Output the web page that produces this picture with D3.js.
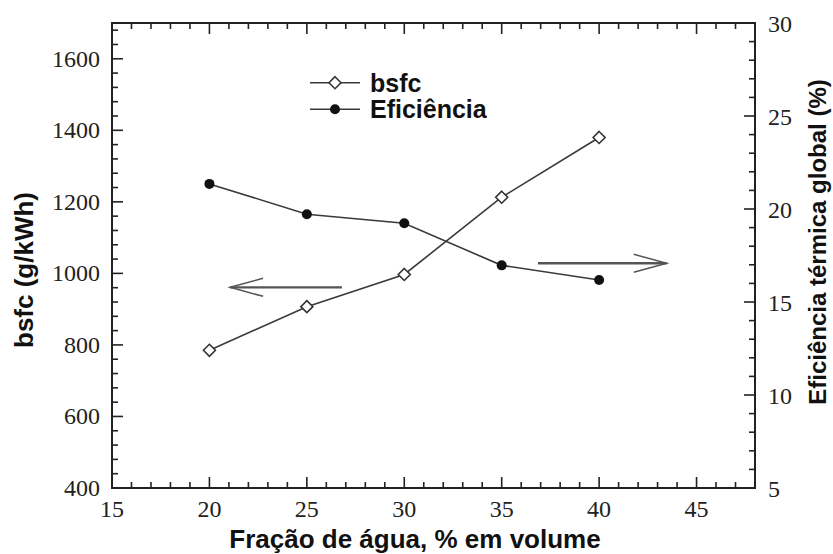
<!DOCTYPE html>
<html>
<head>
<meta charset="utf-8">
<script src="https://cdn.jsdelivr.net/npm/d3@7/dist/d3.min.js"></script>
<style>
  html, body { margin: 0; padding: 0; background: #fff; }
  svg { display: block; }
  .tick-label { font-family: "Liberation Serif", "Times New Roman", serif; font-size: 24px; fill: #222; }
  .title { font-family: "Liberation Sans", Arial, sans-serif; font-weight: bold; fill: #111; }
</style>
</head>
<body>
<svg id="chart" width="833" height="554"></svg>
<script>
// Water fraction (% by volume) and the two measured responses
const waterFraction = [20, 25, 30, 35, 40];
const bsfcValues = [785, 907, 997, 1213, 1380];          // g/kWh, left axis
const efficiencyValues = [21.35, 19.72, 19.23, 16.97, 16.18]; // %, right axis

// Axis ticks
const xTicks = [15, 20, 25, 30, 35, 40, 45];
const bsfcTicks = [400, 600, 800, 1000, 1200, 1400, 1600];
const effTicks = [5, 10, 15, 20, 25, 30];

// Arrows pointing each curve to its axis: [start, tip] in data units
const bsfcArrow = [[26.8, 961], [21.06, 961]];
const effArrow = [[36.86, 17.08], [43.47, 17.08]];

const svg = d3.select("#chart");
const plotLeft = 112, plotRight = 755, plotTop = 23, plotBottom = 488;

const x = d3.scaleLinear().domain([15, 48]).range([plotLeft, plotRight]);
const yL = d3.scaleLinear().domain([400, 1700]).range([plotBottom, plotTop]);
const yR = d3.scaleLinear().domain([5, 30]).range([plotBottom, plotTop]);

const ink = "#222";
const major = 11, minor = 6;

// Inward ticks on all four sides
function ticks(values, pos, orient, len) {
  const g = svg.append("g").attr("stroke", ink).attr("stroke-width", 1.6);
  values.forEach(v => {
    const p = pos(v);
    if (orient === "bottom") g.append("line").attr("x1", p).attr("x2", p).attr("y1", plotBottom).attr("y2", plotBottom - len);
    if (orient === "top") g.append("line").attr("x1", p).attr("x2", p).attr("y1", plotTop).attr("y2", plotTop + len);
    if (orient === "left") g.append("line").attr("y1", p).attr("y2", p).attr("x1", plotLeft).attr("x2", plotLeft + len);
    if (orient === "right") g.append("line").attr("y1", p).attr("y2", p).attr("x1", plotRight).attr("x2", plotRight - len);
  });
}
const xMinor = d3.range(16, 48).filter(v => v % 5 !== 0);
const xMajor = xTicks.filter(v => v > 15);
["bottom", "top"].forEach(o => { ticks(xMajor, x, o, major); ticks(xMinor, x, o, minor); });

const lMinor = d3.range(440, 1700, 40).filter(v => v % 200 !== 0);
ticks(bsfcTicks.filter(v => v > 400), yL, "left", major);
ticks(lMinor, yL, "left", minor);

const rMinor = d3.range(6, 30).filter(v => v % 5 !== 0);
ticks(effTicks.filter(v => v > 5 && v < 30), yR, "right", major);
ticks(rMinor, yR, "right", minor);

// Frame
svg.append("rect").attr("x", plotLeft).attr("y", plotTop)
  .attr("width", plotRight - plotLeft).attr("height", plotBottom - plotTop)
  .attr("fill", "none").attr("stroke", ink).attr("stroke-width", 2);

// Tick labels
svg.append("g").selectAll("text").data(xTicks).join("text")
  .attr("class", "tick-label").attr("x", d => x(d)).attr("y", 509)
  .attr("text-anchor", "middle").attr("dominant-baseline", "central").text(d => d);
svg.append("g").selectAll("text").data(bsfcTicks).join("text")
  .attr("class", "tick-label").attr("x", 100).attr("y", d => yL(d))
  .attr("text-anchor", "end").attr("dominant-baseline", "central").text(d => d);
svg.append("g").selectAll("text").data(effTicks).join("text")
  .attr("class", "tick-label").attr("x", 768).attr("y", d => yR(d) + 1)
  .attr("text-anchor", "start").attr("dominant-baseline", "central").text(d => d);

// Axis titles
svg.append("text").attr("class", "title").attr("font-size", 26)
  .attr("x", 415).attr("y", 548).attr("text-anchor", "middle")
  .text("Fração de água, % em volume");
svg.append("text").attr("class", "title").attr("font-size", 26)
  .attr("transform", "translate(33,270) rotate(-90)").attr("text-anchor", "middle")
  .text("bsfc (g/kWh)");
svg.append("text").attr("class", "title").attr("font-size", 24)
  .attr("transform", "translate(826,242) rotate(-90)").attr("text-anchor", "middle")
  .text("Eficiência térmica global (%)");

// Series lines
const lineColor = "#3a3a3a";
const bsfcLine = d3.line().x((d, i) => x(waterFraction[i])).y(d => yL(d));
const effLine = d3.line().x((d, i) => x(waterFraction[i])).y(d => yR(d));
svg.append("path").attr("d", bsfcLine(bsfcValues)).attr("fill", "none")
  .attr("stroke", lineColor).attr("stroke-width", 1.6);
svg.append("path").attr("d", effLine(efficiencyValues)).attr("fill", "none")
  .attr("stroke", lineColor).attr("stroke-width", 1.6);

// Markers
const diamond = (cx, cy, r) => `M${cx},${cy - r}L${cx + r},${cy}L${cx},${cy + r}L${cx - r},${cy}Z`;
svg.append("g").selectAll("path").data(bsfcValues).join("path")
  .attr("d", (d, i) => diamond(x(waterFraction[i]), yL(d), 6))
  .attr("fill", "#fff").attr("stroke", "#333").attr("stroke-width", 1.6);
svg.append("g").selectAll("circle").data(efficiencyValues).join("circle")
  .attr("cx", (d, i) => x(waterFraction[i])).attr("cy", d => yR(d)).attr("r", 5)
  .attr("fill", "#111");

// Direction arrows
function arrow(pts, yScale) {
  const [a, b] = pts.map(p => [x(p[0]), yScale(p[1])]);
  const dir = Math.sign(b[0] - a[0]);
  const g = svg.append("g").attr("stroke", "#555").attr("fill", "none").attr("stroke-width", 2.4);
  g.append("line").attr("x1", a[0]).attr("y1", a[1]).attr("x2", b[0]).attr("y2", b[1]);
  g.append("path").attr("stroke-width", 1.5)
    .attr("d", `M${b[0] - dir * 33},${b[1] - 9}L${b[0]},${b[1]}L${b[0] - dir * 33},${b[1] + 9}`);
}
arrow(bsfcArrow, yL);
arrow(effArrow, yR);

// Legend
const legend = svg.append("g");
const legendRows = [
  { label: "bsfc", y: 82.7, kind: "diamond" },
  { label: "Eficiência", y: 109.3, kind: "circle" }
];
legendRows.forEach(r => {
  legend.append("line").attr("x1", 310).attr("x2", 360).attr("y1", r.y).attr("y2", r.y)
    .attr("stroke", lineColor).attr("stroke-width", 1.6);
  if (r.kind === "diamond") {
    legend.append("path").attr("d", diamond(335, r.y, 6))
      .attr("fill", "#fff").attr("stroke", "#333").attr("stroke-width", 1.6);
  } else {
    legend.append("circle").attr("cx", 335).attr("cy", r.y).attr("r", 5).attr("fill", "#111");
  }
  legend.append("text").attr("class", "title").attr("font-size", 25)
    .attr("x", 370).attr("y", r.y + 9).text(r.label);
});
</script>
</body>
</html>
